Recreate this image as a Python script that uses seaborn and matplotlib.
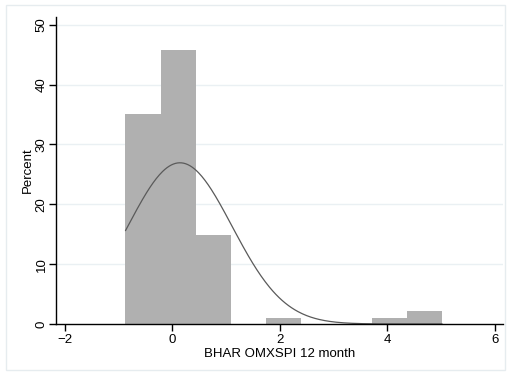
import numpy as np
import matplotlib
matplotlib.use("Agg")
import matplotlib.pyplot as plt
from matplotlib.patches import Rectangle
import seaborn as sns

# Data
bin_edges = [-0.874 + 0.655 * i for i in range(10)]
bin_counts = [33, 43, 14, 0, 1, 0, 0, 1, 2]   # N = 94
fit_mean = 0.14
fit_sd = 0.97
x_ticks = [-2, 0, 2, 4, 6]
y_ticks = [0, 10, 20, 30, 40, 50]
x_label = "BHAR OMXSPI 12 month"
y_label = "Percent"

sns.set_theme(style="white")
plt.rcParams['font.family'] = ['Liberation Sans', 'DejaVu Sans']

fig = plt.figure(figsize=(5.11, 3.76), dpi=100)
ax = fig.add_axes([0.1096, 0.1383, 0.984 - 0.1096, 0.9548 - 0.1383])

centers = [(bin_edges[i] + bin_edges[i + 1]) / 2 for i in range(len(bin_counts))]
sns.histplot(x=centers, weights=bin_counts, bins=bin_edges, stat="percent",
             color="#b0b0b0", alpha=1.0, edgecolor="none", linewidth=0, ax=ax)

# fitted normal density scaled to percent per bin
width = bin_edges[1] - bin_edges[0]
xs = np.linspace(bin_edges[0], bin_edges[-1], 300)
ys = 100 * width * np.exp(-0.5 * ((xs - fit_mean) / fit_sd) ** 2) / (fit_sd * np.sqrt(2 * np.pi))
sns.lineplot(x=xs, y=ys, color="#5a5a5a", linewidth=0.9, ax=ax)

ax.set_xlim(-2.167, 6.15)
ax.set_ylim(0, 51.3)
ax.set_xticks(x_ticks)
ax.set_yticks(y_ticks)
ax.set_yticklabels([str(v) for v in y_ticks], rotation=90, va="center")
for v in y_ticks[1:]:
    ax.axhline(v, color="#eaf0f3", linewidth=1.0, zorder=0)
ax.set_axisbelow(True)

for s in ["top", "right"]:
    ax.spines[s].set_visible(False)
for s in ["left", "bottom"]:
    ax.spines[s].set_color("black")
    ax.spines[s].set_linewidth(1.0)
ax.tick_params(axis="both", direction="out", length=5, width=1, color="black",
               labelsize=9.5, labelcolor="black", left=True, bottom=True)
ax.tick_params(axis="x", pad=2)
ax.tick_params(axis="y", pad=1)
ax.set_xlabel(x_label, fontsize=9.5, color="black", labelpad=2)
ax.set_ylabel(y_label, fontsize=9.5, color="black", labelpad=1)

fig.patches.append(Rectangle((6 / 511, 1 - 370 / 376), 499 / 511, 365 / 376,
                             transform=fig.transFigure, fill=False,
                             edgecolor="#e6ecef", linewidth=1.0))

fig.savefig("out.png", dpi=100)
